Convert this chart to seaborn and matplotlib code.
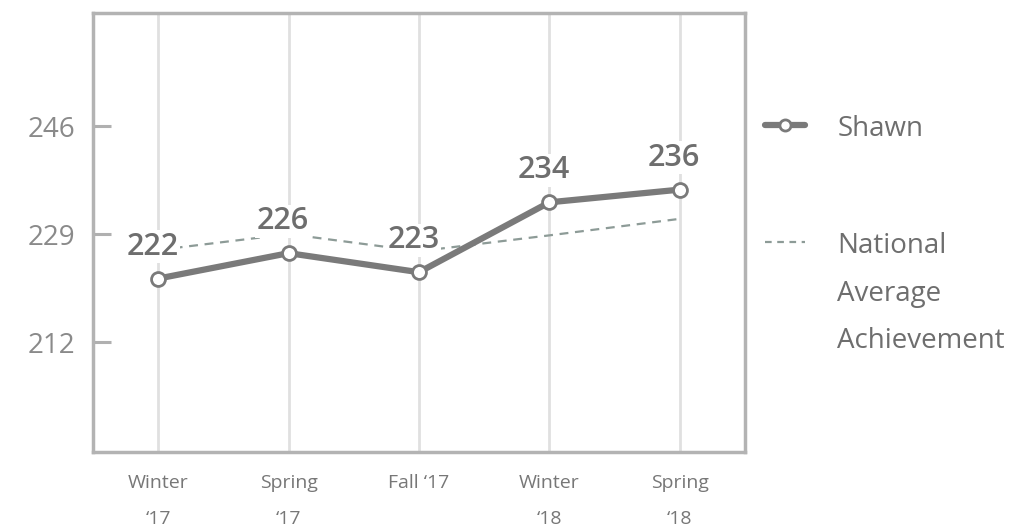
import pandas as pd
import matplotlib.pyplot as plt
import seaborn as sns
from matplotlib.lines import Line2D

# Data
terms = ["Winter\n‘17", "Spring\n‘17", "Fall ‘17", "Winter\n‘18", "Spring\n‘18"]
shawn = [222, 226, 223, 234, 236]
national = [226.5, 229, 226.3, 228.8, 231.4]
yticks = [212, 229, 246]

df = pd.DataFrame({"term": terms, "pos": range(len(terms)),
                   "Shawn": shawn, "National": national})

sns.set_style("white")
plt.rcParams["font.family"] = ["Open Sans", "DejaVu Sans"]

fig = plt.figure(figsize=(10.18, 5.31), dpi=100)
ax = fig.add_axes([0.0914, 0.1488, 0.6404, 0.8267])

# National average (dashed)
sns.lineplot(data=df, x="pos", y="National", ax=ax, color="#8d9b97",
             linewidth=1.6, linestyle=(0, (4, 3)), zorder=2)
# Student scores
sns.lineplot(data=df, x="pos", y="Shawn", ax=ax, color="#7a7a7a",
             linewidth=4.5, marker="o", markersize=10,
             markerfacecolor="white", markeredgecolor="#7a7a7a",
             markeredgewidth=2, zorder=3)

# value labels
for x, v in zip(df["pos"], df["Shawn"]):
    ax.annotate(str(v), (x, v), xytext=(-4, 23), textcoords="offset points",
                ha="center", va="center", fontsize=22, fontweight="semibold",
                color="#6e6e6e", zorder=4,
                bbox=dict(boxstyle="square,pad=0.05", fc="white", ec="none"))

ax.set_xlim(-0.5, 4.5)
ax.set_ylim(194.7, 263.8)
ax.set_xticks(df["pos"])
ax.set_xticklabels(terms, fontsize=14, color="#777777", linespacing=2.35)
ax.set_yticks(yticks)
ax.set_yticklabels([str(t) for t in yticks], fontsize=20)
ax.tick_params(axis="x", length=0, pad=15.5)
ax.tick_params(axis="y", left=True, direction="in", length=13, width=2.2,
               color="#b0b0b0", labelcolor="#8a8a8a", pad=13)

ax.set_xlabel("")
ax.set_ylabel("")

ax.xaxis.grid(True, color="#e0e0e0", linewidth=2)
ax.yaxis.grid(False)
for s in ax.spines.values():
    s.set_color("#b3b3b3")
    s.set_linewidth(2.5)
    s.set_zorder(5)

handles = [
    Line2D([], [], color="#7a7a7a", linewidth=4.5, marker="o", markersize=8,
           markerfacecolor="white", markeredgecolor="#7a7a7a", markeredgewidth=2),
    Line2D([], [], color="#8d9b97", linewidth=1.6, linestyle=(0, (3, 2.5))),
]
leg = fig.legend(handles, ["Shawn", "National\nAverage\nAchievement"],
                 loc="upper left", bbox_to_anchor=(0.7515, 0.7825), frameon=False,
                 fontsize=20, handlelength=1.45, handletextpad=1.15,
                 labelspacing=3.2, borderpad=0, borderaxespad=0)
for t in leg.get_texts():
    t.set_color("#6e6e6e")
    t.set_linespacing(1.92)
# keep each handle level with the first line of its label
for col in leg._legend_handle_box.get_children():
    for item in col.get_children():
        item.align = "top"

fig.savefig("out.png", dpi=100)
